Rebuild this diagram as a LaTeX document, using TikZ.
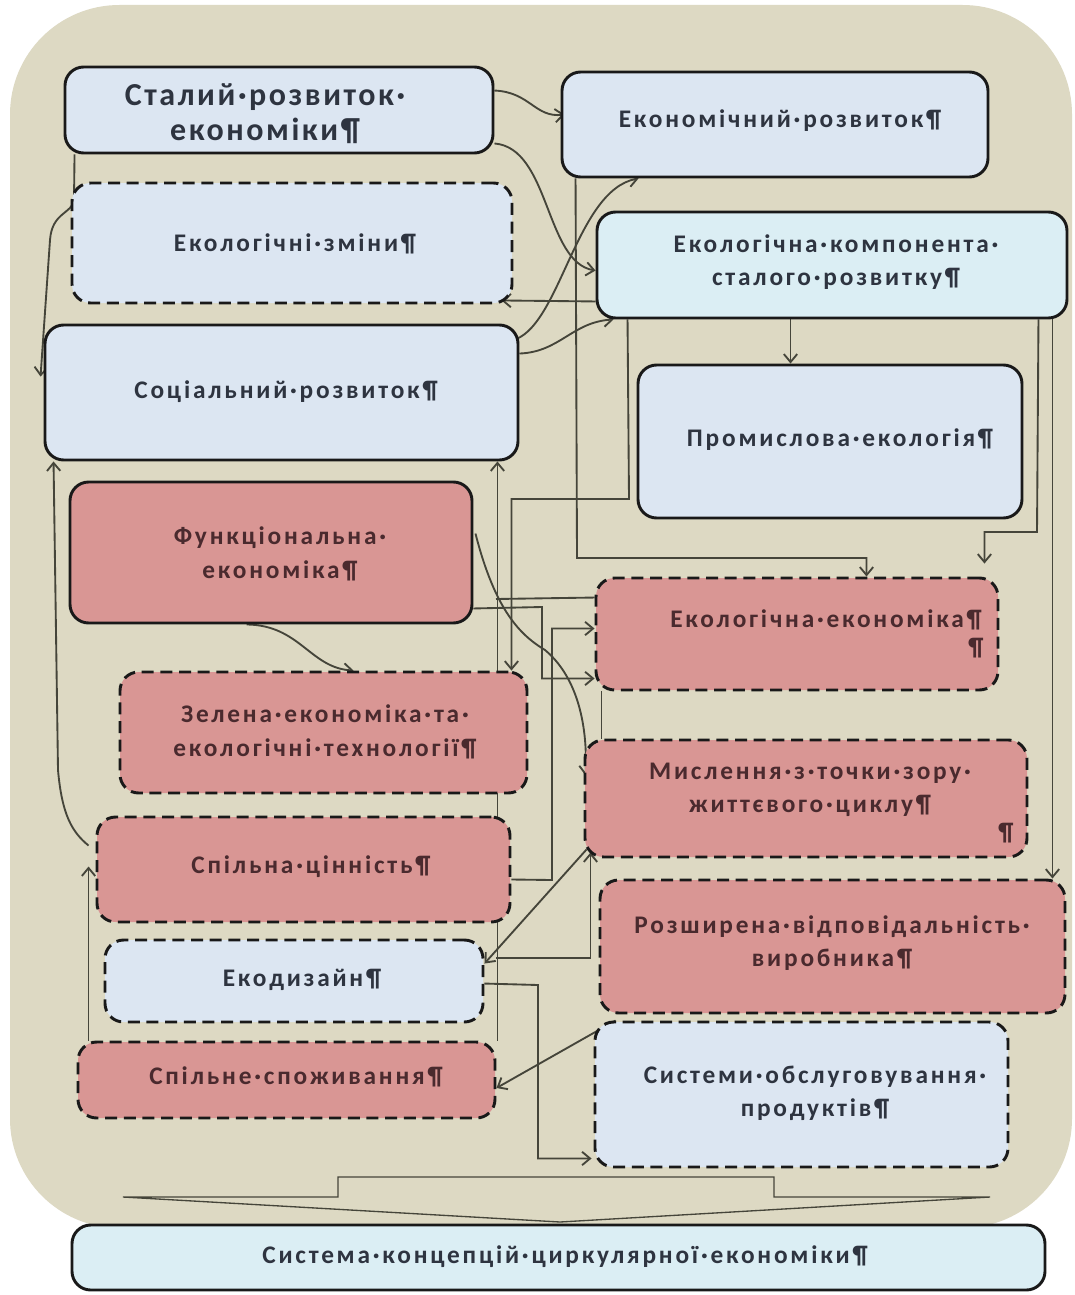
\documentclass[tikz,border=0pt]{standalone}
\usepackage{fontspec}
\setmainfont{Carlito}
\newfontfamily\labfont{Carlito}[LetterSpace=11]
\newfontfamily\ttlfont{Carlito}[LetterSpace=8]
\usetikzlibrary{arrows.meta,calc}
\pgfdeclarelayer{back}
\pgfsetlayers{back,main}
\definecolor{bgc}{HTML}{DDD9C3}
\definecolor{blu}{HTML}{DCE6F2}
\definecolor{cya}{HTML}{DBEEF4}
\definecolor{pnk}{HTML}{D99694}
\definecolor{lnc}{HTML}{45453A}
\definecolor{txb}{HTML}{2E3440}
\definecolor{txp}{HTML}{4A2A2E}
\newcommand\mkbox[6]{\node[#1, minimum width={(#4-#2)*0.75pt}, minimum height={(#5-#3)*0.75pt}] (#6) at ({(#2+#4)/2},{(#3+#5)/2}) {};}
\tikzset{
  sbox/.style={draw=black!90, line width=2.2pt, rounded corners=14pt, inner sep=0pt},
  dbox/.style={sbox, dash pattern=on 9pt off 5pt},
  bl/.style={fill=blu}, cy/.style={fill=cya}, pk/.style={fill=pnk},
  lbl/.style={font=\labfont\bfseries\fontsize{19}{25}\selectfont, align=center, text=txb, inner sep=0pt},
  lblp/.style={lbl, text=txp},
  ttl/.style={font=\ttlfont\bfseries\fontsize{24}{26}\selectfont, align=center, text=txb, inner sep=0pt},
  con/.style={draw=lnc, line width=1.4pt},
  arr/.style={-{Straight Barb[length=6pt,width=10pt]}}
}
\begin{document}
\begin{tikzpicture}[x=0.75pt,y=-0.75pt]
\useasboundingbox (0,0) rectangle (1074,1295);
\begin{pgfonlayer}{back}
\fill[white] (0,0) rectangle (1074,1295);
\fill[bgc, rounded corners=82pt] (10,5) rectangle (1072,1228);
\draw[line width=1pt, draw=lnc, fill=bgc] (338,1177) -- (774,1177) -- (774,1197) -- (990,1197) -- (560,1222) -- (123,1197) -- (338,1197) -- cycle;
\end{pgfonlayer}
% boxes
\mkbox{sbox,bl}{65}{67}{493}{153}{A}
\mkbox{sbox,bl}{562}{72}{988}{177}{B}
\mkbox{dbox,bl}{72}{183}{512}{303}{C}
\mkbox{sbox,cy}{597}{212}{1067}{318}{D}
\mkbox{sbox,bl}{45}{325}{518}{460}{E}
\mkbox{sbox,bl}{638}{365}{1022}{518}{F}
\mkbox{sbox,pk}{70}{482}{472}{623}{G}
\mkbox{dbox,pk}{596}{578}{998}{690}{H}
\mkbox{dbox,pk}{120}{672}{527}{793}{I}
\mkbox{dbox,pk}{585}{740}{1027}{857}{J}
\mkbox{dbox,pk}{97}{817}{510}{922}{K}
\mkbox{dbox,pk}{600}{880}{1065}{1013}{L}
\mkbox{dbox,bl}{105}{940}{483}{1022}{M}
\mkbox{dbox,pk}{78}{1042}{495}{1118}{N}
\mkbox{dbox,bl}{595}{1022}{1008}{1167}{O}
\mkbox{sbox,cy}{72}{1225}{1045}{1290}{P}
% texts
\node[ttl] (tA) at (265,114) {Сталий·розвиток·\\економіки¶};
\node[lbl] (tB) at (780,121) {Економічний·розвиток¶};
\node[lbl] (tC) at (295,244) {Екологічні·зміни¶};
\node[lbl] (tD) at (836,262) {Екологічна·компонента·\\сталого·розвитку¶};
\node[lbl] (tE) at (286,392) {Соціальний·розвиток¶};
\node[lbl] (tF) at (840,440) {Промислова·екологія¶};
\node[lblp] (tG) at (280,554) {Функціональна·\\економіка¶};
\node[lblp] (tH) at (826,620) {Екологічна·економіка¶};
\node[lblp] (tH2) at (976,648) {¶};
\node[lblp] (tI) at (325,732) {Зелена·економіка·та·\\екологічні·технології¶};
\node[lblp] (tJ) at (810,790) {Мислення·з·точки·зору·\\життєвого·циклу¶};
\node[lblp] (tJ2) at (1006,833) {¶};
\node[lblp] (tK) at (311,867) {Спільна·цінність¶};
\node[lblp] (tL) at (832,943) {Розширена·відповідальність·\\виробника¶};
\node[lbl] (tM) at (302,980) {Екодизайн¶};
\node[lblp] (tN) at (296,1077) {Спільне·споживання¶};
\node[lbl] (tO) at (815,1093) {Системи·обслуговування·\\продуктів¶};
\node[lbl] (tP) at (565,1257) {Система·концепцій·циркулярної·економіки¶};
% connectors
\begin{pgfonlayer}{back}
\draw[con,arr] ($(A.north east)+(0,25)$) .. controls (530,92) and (535,118) .. ($(B.north west)+(4,44)$);
\draw[con,arr] ($(A.south east)+(0,-11)$) .. controls (550,148) and (545,262) .. ($(D.north west)+(0,60)$);
\draw[con,arr] ($(A.south west)+(11,0)$) -- (74,200) .. controls (72,214) and (52,212) .. (50,240) -- ($(E.north west)+(-3,53)$);
\draw[con,arr] ($(E.north east)+(-8,17)$) .. controls (560,330) and (575,190) .. ($(B.south west)+(78,0)$);
\draw[con,arr] ($(E.north east)+(0,30)$) .. controls (560,352) and (572,322) .. ($(D.south west)+(18,0)$);
\draw[con,arr] ($(D.south west)+(0,-18)$) -- ($(C.south east)+(-12,-4)$);
\draw[con,arr] ($(B.south west)+(15,0)$) -- (577,558) -| ($(H.north west)+(272,0)$);
\draw[con,arr] ($(D.south west)+(32,0)$) -- (629,499) -| ($(I.north east)+(-17,0)$);
\draw[con,arr] ($(D.south west)+(195,0)$) -- ($(F.north west)+(154,0)$);
\draw[con,arr] ($(D.south east)+(-30,0)$) -- (1037,532) -| ($(H.north east)+(-15,-13)$);
\draw[con,arr] ($(D.south east)+(-16,0)$) -- ($(L.north east)+(-14,0)$);
\draw[con,arr] ($(N.north east)+(1,0)$) -- ($(E.south east)+(-22,0)$);
\draw[con] ($(H.north west)+(0,21)$) -- (496,599);
\draw[con,arr] (496,958) -| ($(J.south west)+(7,-6)$);
\draw[con,arr] ($(J.south west)+(3,-9)$) -- ($(M.north east)+(0,25)$);
\draw[con,arr] ($(G.south west)+(178,0)$) .. controls (300,625) and (310,668) .. ($(I.north west)+(235,0)$);
\draw[con,arr] ($(G.north east)+(2,53)$) .. controls (495,610) and (520,635) .. (545,650) .. controls (575,675) and (588,720) .. ($(J.north west)+(2,37)$);
\draw[con,arr] ($(G.south east)+(0,-16)$) -- (542,607) |- ($(H.south west)+(0,-13)$);
\draw[con,arr] ($(K.east)+(0,10)$) -- (552,880) |- ($(H.north west)+(0,52)$);
\draw[con] ($(H.south west)+(7,0)$) -- ($(J.north west)+(18,0)$);
\draw[con,arr] ($(M.north east)+(0,45)$) -- (538,985) |- ($(O.south west)+(-2,-10)$);
\draw[con,arr] ($(O.north west)+(22,0)$) -- ($(N.east)+(0,8)$);
\draw[con,arr] ($(N.north west)+(12,0)$) -- ($(K.west)+(-7,-3)$);
\draw[con,arr] ($(K.north west)+(-7,30)$) .. controls (72,832) and (62,815) .. (58,770) -- ($(E.south west)+(10,0)$);
\end{pgfonlayer}
\end{tikzpicture}
\end{document}
